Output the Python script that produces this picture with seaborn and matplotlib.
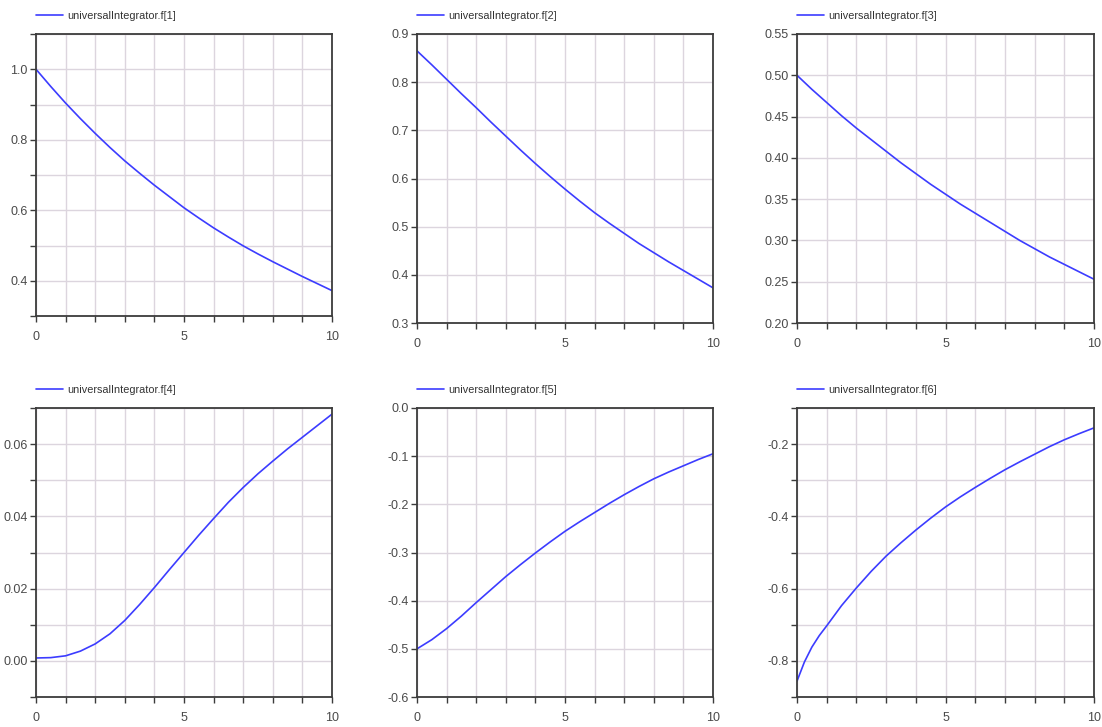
import numpy as np
import matplotlib
matplotlib.use("Agg")
import matplotlib.pyplot as plt
import seaborn as sns
from matplotlib.ticker import FixedLocator, FormatStrFormatter

# time axis (s)
time = [0.0, 0.5, 1.0, 1.5, 2.0, 2.5, 3.0, 3.5, 4.0, 4.5, 5.0,
        5.5, 6.0, 6.5, 7.0, 7.5, 8.0, 8.5, 9.0, 9.5, 10.0]
# f[6] bends sharply near t=0, so it gets a few extra early samples
time_f6 = [0.0, 0.25, 0.5, 0.75, 1.0, 1.5, 2.0, 2.5, 3.0, 3.5, 4.0, 4.5, 5.0,
           5.5, 6.0, 6.5, 7.0, 7.5, 8.0, 8.5, 9.0, 9.5, 10.0]

f1 = [1.000, 0.951, 0.904, 0.860, 0.818, 0.778, 0.740, 0.705, 0.671, 0.639, 0.607,
      0.578, 0.550, 0.524, 0.499, 0.476, 0.454, 0.433, 0.412, 0.392, 0.372]
f2 = [0.865, 0.836, 0.806, 0.776, 0.747, 0.717, 0.688, 0.659, 0.631, 0.604, 0.578,
      0.553, 0.529, 0.507, 0.486, 0.465, 0.446, 0.427, 0.409, 0.391, 0.373]
f3 = [0.500, 0.483, 0.467, 0.451, 0.436, 0.422, 0.408, 0.394, 0.381, 0.368, 0.356,
      0.344, 0.333, 0.322, 0.311, 0.300, 0.290, 0.280, 0.271, 0.262, 0.253]
f4 = [0.0008, 0.0009, 0.0014, 0.0027, 0.0047, 0.0075, 0.0112, 0.0156, 0.0203, 0.0252, 0.0300,
      0.0348, 0.0394, 0.0439, 0.0480, 0.0518, 0.0553, 0.0587, 0.0619, 0.0651, 0.0683]
f5 = [-0.500, -0.481, -0.458, -0.432, -0.404, -0.377, -0.350, -0.325, -0.301, -0.278, -0.256,
      -0.236, -0.217, -0.198, -0.180, -0.163, -0.147, -0.133, -0.120, -0.107, -0.095]
f6 = [-0.856, -0.803, -0.762, -0.730, -0.703, -0.647, -0.598, -0.552, -0.510, -0.473, -0.438,
      -0.405, -0.374, -0.346, -0.320, -0.295, -0.271, -0.249, -0.228, -0.207, -0.188, -0.171, -0.155]

labels = ["universalIntegrator.f[1]", "universalIntegrator.f[2]", "universalIntegrator.f[3]",
          "universalIntegrator.f[4]", "universalIntegrator.f[5]", "universalIntegrator.f[6]"]

xticks_major = [0, 5, 10]
xticks_minor = [1, 2, 3, 4, 6, 7, 8, 9]

# y limits, labelled ticks, extra grid ticks, label format
y_setup = [
    ((0.3, 1.1), [0.4, 0.6, 0.8, 1.0], [0.3, 0.5, 0.7, 0.9, 1.1], "%.1f"),
    ((0.3, 0.9), [0.3, 0.4, 0.5, 0.6, 0.7, 0.8, 0.9], [], "%.1f"),
    ((0.2, 0.55), [0.20, 0.25, 0.30, 0.35, 0.40, 0.45, 0.50, 0.55], [], "%.2f"),
    ((-0.01, 0.07), [0.00, 0.02, 0.04, 0.06], [-0.01, 0.01, 0.03, 0.05, 0.07], "%.2f"),
    ((-0.6, 0.0), [-0.6, -0.5, -0.4, -0.3, -0.2, -0.1, 0.0], [], "%.1f"),
    ((-0.9, -0.1), [-0.8, -0.6, -0.4, -0.2], [-0.9, -0.7, -0.5, -0.3, -0.1], "%.1f"),
]

sns.set_style("white")
plt.rcParams["font.family"] = ["Liberation Sans Narrow", "Liberation Sans", "DejaVu Sans"]
plt.rcParams["axes.unicode_minus"] = False

fig = plt.figure(figsize=(11.02, 7.27), dpi=100)
W, H = 1102.0, 727.0

# pixel boxes: left, top, right, bottom
boxes = [(36, 34, 332, 316), (417, 34, 713, 323), (797, 34, 1094, 323),
         (36, 408, 332, 697), (417, 408, 713, 697), (797, 408, 1094, 697)]

xs = [time, time, time, time, time, time_f6]
series = [f1, f2, f3, f4, f5, f6]
line_color = "#3c3cff"
grid_color = "#dcd5de"
spine_color = "#3c3c3c"
text_color = "#4a4a4a"

for i in range(6):
    l, t, r, b = boxes[i]
    ax = fig.add_axes([l / W, 1 - b / H, (r - l) / W, (b - t) / H])
    sns.lineplot(x=xs[i], y=series[i], ax=ax, color=line_color, linewidth=1.2, label=labels[i])

    ylim, yt_major, yt_minor, fmt = y_setup[i]
    ax.set_xlim(0, 10)
    ax.set_ylim(*ylim)
    ax.xaxis.set_major_locator(FixedLocator(xticks_major))
    ax.xaxis.set_minor_locator(FixedLocator(xticks_minor))
    ax.yaxis.set_major_locator(FixedLocator(yt_major))
    ax.yaxis.set_minor_locator(FixedLocator(yt_minor))
    ax.yaxis.set_major_formatter(FormatStrFormatter(fmt))

    ax.grid(True, which="both", color=grid_color, linewidth=1.0)
    ax.set_axisbelow(True)
    for s in ax.spines.values():
        s.set_color(spine_color)
        s.set_linewidth(1.3)
    ax.tick_params(which="both", direction="out", length=4, width=1.0,
                   color=spine_color, labelcolor=text_color, labelsize=9,
                   left=True, bottom=True, pad=2)
    ax.tick_params(axis="x", pad=7)

    # legend sits just above the plot frame
    leg = ax.legend(loc="center left", bbox_to_anchor=(0.0, 1 + 18.0 / (b - t)), frameon=False,
                    fontsize=7.8, handlelength=2.5, handletextpad=0.4,
                    borderaxespad=0.0, borderpad=0.0)
    for txt in leg.get_texts():
        txt.set_color("#333333")

fig.savefig("out.png", dpi=100, facecolor="white")
